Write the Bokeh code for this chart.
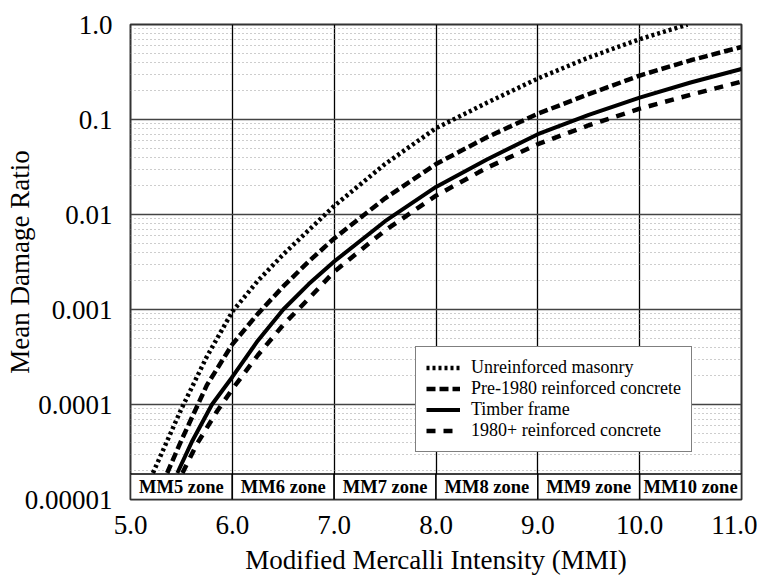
from bokeh.plotting import figure
from bokeh.models import FixedTicker, Legend, LegendItem, ColumnDataSource
from bokeh.core.properties import value
from bokeh.embed import file_html
from bokeh.resources import INLINE

# ---- data ----
mmi_urm = [5.22, 5.5, 5.75, 6.0, 6.25, 6.5, 7.0, 7.5, 8.0, 8.5, 9.0, 9.5, 10.0, 10.47]
mdr_urm = [1.9e-5, 9.0e-5, 3.2e-4, 9.5e-4, 2.0e-3, 3.8e-3, 1.23e-2, 3.4e-2, 8.1e-2, 1.5e-1, 2.7e-1, 4.5e-1, 7.0e-1, 1.0]

mmi_pre = [5.36, 5.5, 5.75, 6.0, 6.25, 6.5, 6.75, 7.0, 7.5, 8.0, 8.5, 9.0, 9.5, 10.0, 10.5, 11.0]
mdr_pre = [1.9e-5, 4.2e-5, 1.6e-4, 4.3e-4, 9.0e-4, 1.75e-3, 3.2e-3, 5.6e-3, 1.48e-2, 3.4e-2, 6.5e-2, 1.15e-1, 1.85e-1, 2.9e-1, 4.2e-1, 5.8e-1]

mmi_tim = [5.46, 5.6, 5.8, 6.0, 6.25, 6.5, 6.75, 7.0, 7.5, 8.0, 8.5, 9.0, 9.5, 10.0, 10.5, 11.0]
mdr_tim = [1.9e-5, 4.0e-5, 1.0e-4, 1.95e-4, 4.7e-4, 1.0e-3, 1.85e-3, 3.2e-3, 8.5e-3, 1.95e-2, 3.8e-2, 7.0e-2, 1.12e-1, 1.7e-1, 2.45e-1, 3.4e-1]

mmi_new = [5.51, 5.65, 5.85, 6.0, 6.25, 6.5, 6.75, 7.0, 7.5, 8.0, 8.5, 9.0, 9.5, 10.0, 10.5, 11.0]
mdr_new = [1.9e-5, 3.8e-5, 8.5e-5, 1.45e-4, 3.3e-4, 6.9e-4, 1.3e-3, 2.5e-3, 6.8e-3, 1.58e-2, 3.1e-2, 5.5e-2, 8.7e-2, 1.3e-1, 1.82e-1, 2.5e-1]

zone_labels = ["MM5 zone", "MM6 zone", "MM7 zone", "MM8 zone", "MM9 zone", "MM10 zone"]
zone_left = [5, 6, 7, 8, 9, 10]
zone_right = [6, 7, 8, 9, 10, 11]
band_bottom = 1e-5
band_top = 1.85e-5

x_ticks = [5, 6, 7, 8, 9, 10, 11]
x_tick_labels = ["5.0", "6.0", "7.0", "8.0", "9.0", "10.0", "11.0"]
y_ticks = [1e-5, 1e-4, 1e-3, 1e-2, 1e-1, 1.0]
y_tick_labels = ["0.00001", "0.0001", "0.001", "0.01", "0.1", "1.0"]

SERIF = "Liberation Serif"

p = figure(width=757, height=577, x_range=(5, 11), y_range=(1e-5, 1.0),
           y_axis_type="log", output_backend="svg", toolbar_location=None,
           min_border_left=130, min_border_right=16, min_border_top=24,
           min_border_bottom=72)

p.background_fill_color = "white"
p.border_fill_color = "white"
p.outline_line_color = "#333333"
p.outline_line_width = 2

minor = [k * 10.0 ** e for e in range(-5, 0) for k in range(2, 10)]
p.xaxis.ticker = FixedTicker(ticks=x_ticks)
p.yaxis.ticker = FixedTicker(ticks=y_ticks, minor_ticks=minor)
p.xaxis.major_label_overrides = {t: l for t, l in zip(x_ticks, x_tick_labels)}
p.yaxis.major_label_overrides = {t: l for t, l in zip(y_ticks, y_tick_labels)}

for ax in (p.xaxis, p.yaxis):
    ax.axis_line_color = None
    ax.major_tick_line_color = None
    ax.minor_tick_line_color = None
    ax.major_label_text_font = SERIF
    ax.major_label_text_font_size = "27px"
    ax.major_label_text_color = "black"
    ax.axis_label_text_font = SERIF
    ax.axis_label_text_font_size = "27px"
    ax.axis_label_text_font_style = "normal"
    ax.axis_label_text_color = "black"

p.xaxis.axis_label = "Modified Mercalli Intensity (MMI)"
p.yaxis.axis_label = "Mean Damage Ratio"
p.xaxis.major_label_standoff = 10
p.yaxis.major_label_standoff = 12
p.xaxis.axis_label_standoff = 8
p.yaxis.axis_label_standoff = -13

p.xgrid.ticker = FixedTicker(ticks=x_ticks)
p.xgrid.grid_line_color = "black"
p.xgrid.grid_line_width = 1.3
p.ygrid.grid_line_color = "#444444"
p.ygrid.grid_line_width = 1.5
p.ygrid.minor_grid_line_color = "#9a9a9a"
p.ygrid.minor_grid_line_width = 1
p.ygrid.minor_grid_line_dash = "1 3"

r_urm = p.line(mmi_urm, mdr_urm, line_color="black", line_width=4.5, line_dash="3 3", line_cap="butt")
r_pre = p.line(mmi_pre, mdr_pre, line_color="black", line_width=4.5, line_dash="9 4", line_cap="butt")
r_tim = p.line(mmi_tim, mdr_tim, line_color="black", line_width=4)
r_new = p.line(mmi_new, mdr_new, line_color="black", line_width=4.5, line_dash="9 8", line_cap="butt")

band = ColumnDataSource(dict(left=zone_left, right=zone_right,
                             bottom=[band_bottom] * len(zone_left), top=[band_top] * len(zone_left),
                             xc=[(a + b) / 2 for a, b in zip(zone_left, zone_right)],
                             yc=[(band_bottom * band_top) ** 0.5] * len(zone_left),
                             label=zone_labels))
p.quad(left="left", right="right", bottom="bottom", top="top", source=band,
       fill_color="white", line_color="black", line_width=1.5)
p.text(x="xc", y="yc", text="label", source=band, text_align="center",
       text_baseline="middle", text_font=value(SERIF), text_font_style="bold",
       text_font_size="18.5px", text_color="black")

legend = Legend(items=[
    LegendItem(label="Unreinforced masonry", renderers=[r_urm]),
    LegendItem(label="Pre-1980 reinforced concrete", renderers=[r_pre]),
    LegendItem(label="Timber frame", renderers=[r_tim]),
    LegendItem(label="1980+ reinforced concrete", renderers=[r_new]),
], location=(285, 47))
legend.label_text_font = SERIF
legend.label_text_font_size = "18px"
legend.label_text_color = "black"
legend.glyph_width = 34
legend.glyph_height = 19
legend.label_height = 19
legend.label_standoff = 11
legend.spacing = 0
legend.padding = 10
legend.margin = 0
legend.border_line_color = "black"
legend.border_line_width = 1.5
legend.background_fill_color = "white"
legend.background_fill_alpha = 1.0
p.add_layout(legend, "center")

open("out.html", "w").write(file_html(p, INLINE))
